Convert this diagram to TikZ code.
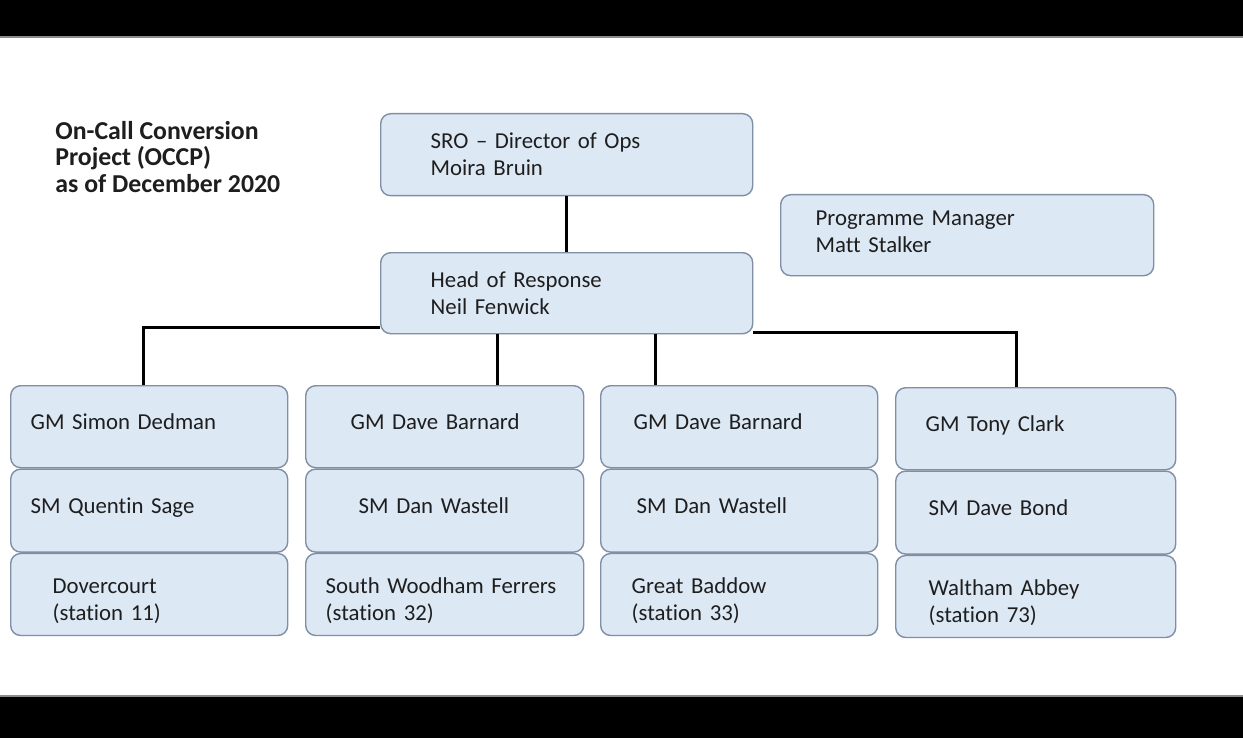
\documentclass[tikz,border=0pt]{standalone}
\usepackage{fontspec}
\setmainfont{Carlito}[Ligatures=NoCommon]
\usetikzlibrary{positioning}

\definecolor{cardfill}{RGB}{221,232,245}
\definecolor{cardedge}{RGB}{128,143,165}
\definecolor{inkgray}{RGB}{30,30,30}

\tikzset{
  card/.style 2 args={draw=cardedge, line width=0.7pt, fill=cardfill, rounded corners=5pt,
    align=left, text=inkgray, font=\fontsize{11.4}{13.5}\selectfont,
    inner xsep=#1, text width=#2, inner ysep=0pt, minimum height=41pt},
  oneline/.style={text depth=5pt},
  station/.style={text height=14.5pt},
  link/.style={line width=1.5pt, black}
}

\begin{document}
\begin{tikzpicture}[x=0.5pt, y=-0.5pt]
% page and black bars
\fill[white] (0,0) rectangle (1243,738);
\useasboundingbox (0,0) rectangle (1243,738);
\fill[black] (0,0) rectangle (1243,36);
\fill[black!45] (0,36) rectangle (1243,38);
\fill[black!45] (0,695) rectangle (1243,697);
\fill[black] (0,697) rectangle (1243,738);

% title
\node[anchor=west, align=left, inner sep=0pt, text=inkgray,
      font=\fontsize{12.9}{13.3}\selectfont\bfseries] (title) at (55,157)
  {On-Call Conversion\\Project (OCCP)\\as of December 2020};

% top of the tree
\node[card={25pt}{136pt}, anchor=north west] (sro) at (380,113) {SRO -- Director of Ops\\Moira Bruin};
\node[card={25pt}{136pt}, anchor=north west, minimum height=40.5pt] (head) at (380,252) {Head of Response\\Neil Fenwick};
\node[card={17.5pt}{151.5pt}, anchor=north west, minimum height=40.5pt, text depth=17pt] (pm) at (780,194) {Programme Manager\\Matt Stalker};

% column 1
\node[card={10pt}{118.5pt}, oneline, anchor=north west] (gm1) at (10,385) {GM Simon Dedman};
\node[card={10pt}{118.5pt}, oneline, below=0pt of gm1, minimum height=41.5pt] (sm1) {SM Quentin Sage};
\node[card={21pt}{96.5pt}, station, below=0pt of sm1] (st1) {Dovercourt\\(station 11)};

% column 2
\node[card={22.5pt}{94pt}, oneline, anchor=north west] (gm2) at (305,385) {GM Dave Barnard};
\node[card={26.5pt}{86pt}, oneline, below=0pt of gm2, minimum height=41.5pt] (sm2) {SM Dan Wastell};
\node[card={10pt}{119pt}, station, below=0pt of sm2] (st2) {South Woodham Ferrers\\(station 32)};

% column 3
\node[card={16.5pt}{105.5pt}, oneline, anchor=north west] (gm3) at (600,385) {GM Dave Barnard};
\node[card={18pt}{102.5pt}, oneline, below=0pt of gm3, minimum height=41.5pt] (sm3) {SM Dan Wastell};
\node[card={15.5pt}{107.5pt}, station, below=0pt of sm3] (st3) {Great Baddow\\(station 33)};

% column 4
\node[card={15pt}{110pt}, oneline, anchor=north west] (gm4) at (895,387) {GM Tony Clark};
\node[card={16.5pt}{107pt}, oneline, below=0pt of gm4, minimum height=41.5pt] (sm4) {SM Dave Bond};
\node[card={16.5pt}{107pt}, station, below=0pt of sm4] (st4) {Waltham Abbey\\(station 73)};

% reporting lines
\draw[link] (sro) -- (head);
\draw[link] ([yshift=3.5pt]head.south west) -| ([xshift=-2.75pt]gm1.north);
\draw[link] ([xshift=58.5pt]head.south west) -- ([xshift=58.5pt]head.south west |- gm2.north);
\draw[link] ([xshift=137.5pt]head.south west) -- ([xshift=137.5pt]head.south west |- gm3.north);
\draw[link] ([yshift=1pt]head.south east) -| ([xshift=-9.5pt]gm4.north);
\end{tikzpicture}
\end{document}
